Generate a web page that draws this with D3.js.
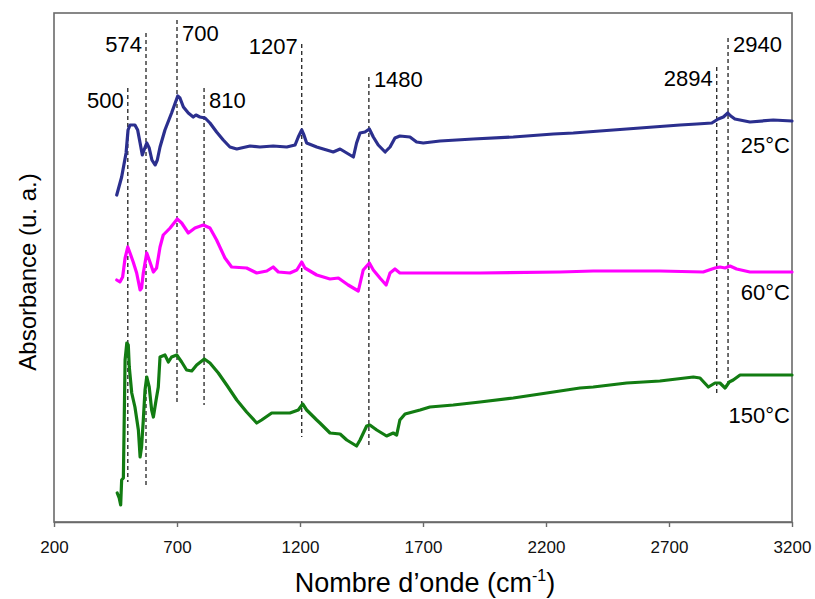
<!DOCTYPE html>
<html>
<head>
<meta charset="utf-8">
<script src="https://cdn.jsdelivr.net/npm/d3@7"></script>
<style>
  html, body { margin: 0; padding: 0; background: #ffffff; }
  svg { display: block; font-family: "Liberation Sans", Arial, Helvetica, sans-serif; }
</style>
</head>
<body>
<svg id="chart" width="815" height="599"></svg>
<script>
// ---- data ----
const xTicks = [200, 700, 1200, 1700, 2200, 2700, 3200];

// 25°C spectrum: [wavenumber, absorbance (a.u.)]
const series25 = [
  [455,3.27],[475,3.45],[493,3.69],[501,3.92],[509,3.97],[529,3.97],[540,3.92],[550,3.79],
  [559,3.67],[566,3.72],[577,3.79],[587,3.74],[598,3.62],[611,3.57],[620,3.62],[631,3.75],
  [651,3.92],[678,4.09],[703,4.26],[712,4.24],[726,4.15],[746,4.09],[766,4.05],[777,4.07],
  [793,4.05],[814,4.04],[834,3.99],[861,3.90],[888,3.82],[915,3.75],[943,3.73],[997,3.76],
  [1037,3.75],[1091,3.76],[1146,3.75],[1180,3.77],[1193,3.85],[1207,3.92],[1216,3.87],
  [1227,3.79],[1268,3.75],[1281,3.74],[1322,3.71],[1335,3.70],[1363,3.73],[1390,3.69],
  [1417,3.65],[1430,3.79],[1444,3.89],[1464,3.90],[1482,3.93],[1498,3.85],[1518,3.77],
  [1546,3.70],[1566,3.75],[1586,3.84],[1606,3.86],[1647,3.85],[1674,3.80],[1701,3.79],
  [1769,3.81],[1904,3.83],[2067,3.85],[2230,3.88],[2311,3.89],[2419,3.91],[2528,3.93],
  [2636,3.95],[2745,3.97],[2813,3.98],[2874,3.99],[2900,4.03],[2921,4.05],[2939,4.09],
  [2951,4.06],[2968,4.03],[3029,4.00],[3124,4.02],[3200,4.01]
];

// 60°C spectrum
const series60 = [
  [455,2.42],[468,2.40],[479,2.45],[489,2.64],[500,2.75],[509,2.69],[522,2.60],[536,2.49],
  [550,2.32],[556,2.34],[563,2.49],[577,2.69],[590,2.60],[604,2.50],[617,2.54],[631,2.75],
  [644,2.87],[672,2.94],[701,3.03],[719,2.99],[746,2.89],[773,2.94],[807,2.97],[834,2.94],
  [861,2.82],[895,2.64],[922,2.55],[983,2.54],[1024,2.49],[1065,2.51],[1091,2.55],
  [1112,2.50],[1159,2.49],[1187,2.52],[1207,2.60],[1220,2.54],[1268,2.47],[1322,2.43],
  [1356,2.44],[1396,2.37],[1437,2.31],[1457,2.52],[1482,2.59],[1498,2.52],[1525,2.44],
  [1550,2.37],[1566,2.49],[1586,2.53],[1606,2.49],[1688,2.49],[1932,2.49],[2257,2.50],
  [2392,2.51],[2663,2.51],[2839,2.50],[2887,2.54],[2907,2.55],[2928,2.54],[2948,2.56],
  [2975,2.53],[3029,2.50],[3200,2.50]
];

// 150°C spectrum
const series150 = [
  [457,0.29],[465,0.24],[471,0.17],[475,0.42],[482,0.44],[485,0.95],[489,1.62],[496,1.79],
  [502,1.77],[506,1.55],[516,1.29],[529,1.15],[543,0.92],[550,0.65],[556,0.75],[563,1.02],
  [570,1.32],[577,1.45],[587,1.35],[597,1.12],[604,1.05],[615,1.22],[624,1.35],[631,1.65],
  [651,1.67],[665,1.60],[678,1.65],[699,1.67],[719,1.60],[739,1.52],[760,1.51],[780,1.57],
  [811,1.63],[834,1.59],[868,1.49],[902,1.37],[943,1.22],[983,1.10],[1024,0.99],[1044,1.02],
  [1085,1.09],[1159,1.09],[1193,1.12],[1211,1.18],[1227,1.12],[1268,1.02],[1281,0.99],
  [1322,0.89],[1363,0.88],[1390,0.82],[1430,0.76],[1444,0.82],[1471,0.96],[1484,0.97],
  [1512,0.92],[1552,0.86],[1579,0.89],[1593,0.87],[1606,1.02],[1627,1.08],[1688,1.12],
  [1728,1.15],[1823,1.17],[1932,1.20],[2067,1.24],[2203,1.29],[2338,1.34],[2392,1.35],
  [2528,1.39],[2663,1.41],[2799,1.45],[2826,1.44],[2860,1.35],[2887,1.39],[2907,1.39],
  [2928,1.34],[2945,1.40],[2961,1.42],[2989,1.47],[3200,1.47]
];

const seriesNames = ["25°C", "60°C", "150°C"];
const seriesLabelY = [3.69, 2.22, 0.99];

// peak markers: wavenumber, dashed line extent (a.u.), label baseline (a.u.)
const peakValues = [500, 574, 700, 810, 1207, 1480, 2894, 2940];
const peakTop    = [4.34, 4.89, 5.02, 4.34, 4.78, 4.45, 4.55, 4.84];
const peakBottom = [0.40, 0.37, 1.19, 1.17, 0.85, 0.74, 1.28, 1.34];
const peakLabelY = [4.14, 4.70, 4.81, 4.14, 4.68, 4.35, 4.36, 4.70];
const peakLabelSide = ["left", "left", "right", "right", "left", "right", "left", "right"];

// ---- chart ----
const svg = d3.select("#chart");
const x0 = 54, x1 = 792, yTop = 13, yBot = 522;

const x = d3.scaleLinear().domain([200, 3200]).range([x0, x1]);
const y = d3.scaleLinear().domain([0, 5.09]).range([yBot, yTop]);

svg.append("rect").attr("x", 0).attr("y", 0).attr("width", 815).attr("height", 599).attr("fill", "#ffffff");

// frame
svg.append("rect")
  .attr("x", x0).attr("y", yTop)
  .attr("width", x1 - x0).attr("height", yBot - yTop)
  .attr("fill", "none").attr("stroke", "#6a6a6a").attr("stroke-width", 1.6);

// x axis
const xAxis = d3.axisBottom(x).tickValues(xTicks).tickFormat(d3.format("d"))
  .tickSize(5).tickSizeOuter(0).tickPadding(14);
const gx = svg.append("g").attr("transform", `translate(0,${yBot})`).call(xAxis);
gx.select(".domain").attr("stroke", "#6a6a6a").attr("stroke-width", 1.6);
gx.selectAll(".tick line").attr("stroke", "#6a6a6a").attr("stroke-width", 1.4);
gx.selectAll(".tick text").attr("font-size", 17).attr("fill", "#111")
  .attr("font-family", "'Liberation Sans', Arial, sans-serif");

// dashed peak lines
peakValues.forEach((p, i) => {
  svg.append("line")
    .attr("x1", x(p)).attr("x2", x(p))
    .attr("y1", y(peakTop[i])).attr("y2", y(peakBottom[i]))
    .attr("stroke", "#222").attr("stroke-width", 1.3)
    .attr("stroke-dasharray", "4,3");
});

// curves
const line = d3.line().x(d => x(d[0])).y(d => y(d[1]));
const allSeries = [series25, series60, series150];
const colors = ["#2b2f8e", "#ff00ff", "#127c12"];
allSeries.forEach((s, i) => {
  svg.append("path").datum(s)
    .attr("d", line)
    .attr("fill", "none")
    .attr("stroke", colors[i])
    .attr("stroke-width", 3.2)
    .attr("stroke-linejoin", "round")
    .attr("stroke-linecap", "round");
});

// peak labels
peakValues.forEach((p, i) => {
  const left = peakLabelSide[i] === "left";
  svg.append("text")
    .attr("x", x(p) + (left ? -4 : 5))
    .attr("y", y(peakLabelY[i]))
    .attr("text-anchor", left ? "end" : "start")
    .attr("font-size", 22)
    .attr("fill", "#000")
    .text(String(p));
});

// series labels
seriesNames.forEach((n, i) => {
  svg.append("text")
    .attr("x", 790)
    .attr("y", y(seriesLabelY[i]))
    .attr("text-anchor", "end")
    .attr("font-size", 22)
    .attr("fill", "#000")
    .text(n);
});

// axis titles
const xt = svg.append("text")
  .attr("x", 425).attr("y", 592)
  .attr("text-anchor", "middle")
  .attr("font-size", 27)
  .attr("fill", "#000");
xt.append("tspan").text("Nombre d’onde (cm");
xt.append("tspan").attr("font-size", 16).attr("dy", -11).text("-1");
xt.append("tspan").attr("dy", 11).text(")");

svg.append("text")
  .attr("transform", "translate(36,272) rotate(-90)")
  .attr("text-anchor", "middle")
  .attr("font-size", 24)
  .attr("fill", "#000")
  .text("Absorbance (u. a.)");
</script>
</body>
</html>
